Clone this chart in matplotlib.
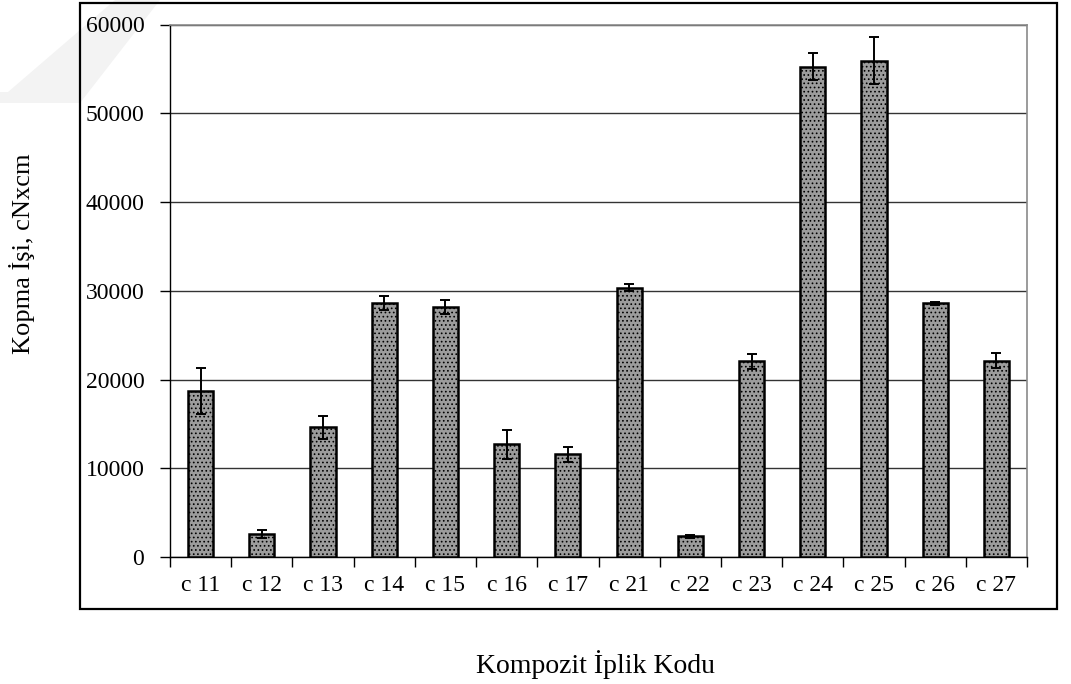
import matplotlib
matplotlib.use("Agg")
import matplotlib.pyplot as plt
import numpy as np
from matplotlib.patches import Rectangle, Polygon

# Kopma işi (cN x cm) per composite yarn code, with error bars
codes = ["c 11", "c 12", "c 13", "c 14", "c 15", "c 16", "c 17",
         "c 21", "c 22", "c 23", "c 24", "c 25", "c 26", "c 27"]
means = [18720, 2590, 14600, 28630, 28180, 12690, 11560,
         30360, 2330, 22030, 55240, 55930, 28570, 22130]
errors = [2600, 450, 1300, 820, 800, 1600, 870,
          430, 150, 850, 1500, 2650, 150, 870]
yticks = [0, 10000, 20000, 30000, 40000, 50000, 60000]

plt.rcParams.update({
    "font.family": ["Liberation Serif", "DejaVu Serif"],
    "hatch.color": "#3a3a3a",
    "hatch.linewidth": 0.7,
})

W, H = 1071, 684
fig = plt.figure(figsize=(W / 100, H / 100), dpi=100)

# faint watermark band top-left
fig.patches.append(Polygon(
    [(0 / W, 1 - 103 / H), (80 / W, 1 - 103 / H), (160 / W, 1 - 0 / H),
     (115 / W, 1 - 0 / H), (8 / W, 1 - 92 / H), (0 / W, 1 - 92 / H)],
    closed=True, transform=fig.transFigure, facecolor="#f3f3f3",
    edgecolor="none", zorder=-2))

# outer frame
fig.patches.append(Rectangle((80 / W, 1 - 609 / H), 977 / W, 606 / H,
                             transform=fig.transFigure, fill=False,
                             edgecolor="black", linewidth=1.6, zorder=1))

ax = fig.add_axes([170 / W, 1 - 557 / H, 857 / W, 532.5 / H])
ax.set_facecolor("none")

x = np.arange(len(codes))
ax.bar(x, means, width=0.41, color="#9c9c9c", edgecolor="black",
       linewidth=1.8, hatch="....", zorder=3)
ax.errorbar(x, means, yerr=errors, fmt="none", ecolor="black",
            elinewidth=1.4, capsize=3.6, capthick=1.4, zorder=4)

ax.set_xlim(-0.5, len(codes) - 0.5)
ax.set_ylim(0, 60000)
ax.set_yticks(yticks)
ax.set_yticklabels([str(v) for v in yticks], fontsize=17)
ax.yaxis.grid(True, color="#333333", linewidth=1.0, zorder=0)
ax.set_axisbelow(True)

# tick marks at category boundaries, labels at centers
ax.set_xticks(np.arange(-0.5, len(codes), 1.0))
ax.set_xticklabels([])
ax.set_xticks(x, minor=True)
ax.set_xticklabels(codes, minor=True, fontsize=17)
ax.tick_params(axis="x", which="major", direction="out", length=7, width=1)
ax.tick_params(axis="x", which="minor", length=0, pad=13)
ax.tick_params(axis="y", direction="out", length=7, width=1, pad=11.5)

for side in ["left", "bottom"]:
    ax.spines[side].set_color("black")
    ax.spines[side].set_linewidth(1.0)
for side in ["top", "right"]:
    ax.spines[side].set_color("#8a8a8a")
    ax.spines[side].set_linewidth(1.2)

fig.text(22 / W, 1 - 254 / H, "Kopma İşi, cNxcm", rotation=90,
         ha="center", va="center", fontsize=19)
fig.text(595 / W, 1 - 665 / H, "Kompozit İplik Kodu",
         ha="center", va="center", fontsize=20)

fig.savefig("out.png", dpi=100)
